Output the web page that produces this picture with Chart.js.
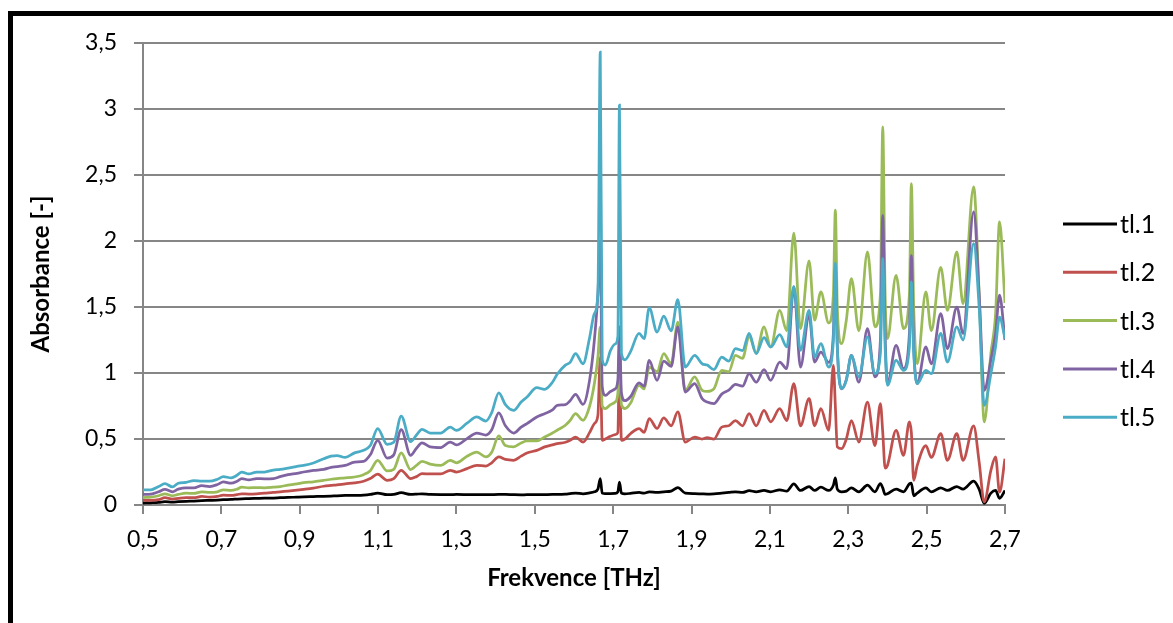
<!DOCTYPE html>
<html>
<head>
<meta charset="utf-8">
<script src="https://cdn.jsdelivr.net/npm/chart.js@4.4.1/dist/chart.umd.min.js"></script>
<style>
  html, body { margin:0; padding:0; background:#fff; overflow:hidden; width:1173px; height:623px; }
  #frame { position:absolute; left:8px; top:11px; width:1300px; height:800px; border-left:5px solid #000; border-top:5px solid #000; }
  #wrap { position:absolute; left:0; top:0; width:1173px; height:623px; }
</style>
</head>
<body>
<div id="frame"></div>
<div id="wrap"><canvas id="c" width="1173" height="623"></canvas></div>
<script>
// ---- data ----
const freq = [
  0.50, 0.52, 0.54, 0.556, 0.575, 0.59, 0.61, 0.63, 0.65, 0.67,
  0.69, 0.705, 0.725, 0.74, 0.752, 0.77, 0.79, 0.81, 0.833, 0.85,
  0.87, 0.893, 0.91, 0.935, 0.961, 0.98, 0.995, 1.016, 1.04, 1.063,
  1.08, 1.099, 1.123, 1.14, 1.159, 1.183, 1.198, 1.212, 1.233, 1.26,
  1.284, 1.30, 1.327, 1.352, 1.375, 1.39, 1.408, 1.425, 1.446, 1.465,
  1.48, 1.505, 1.525, 1.545, 1.557, 1.578, 1.59, 1.604, 1.623, 1.64,
  1.652, 1.661, 1.667, 1.672, 1.68, 1.693, 1.705, 1.712, 1.716, 1.721,
  1.73, 1.744, 1.766, 1.779, 1.792, 1.812, 1.829, 1.848, 1.865, 1.884,
  1.908, 1.927, 1.94, 1.957, 1.977, 1.995, 2.012, 2.03, 2.047, 2.065,
  2.085, 2.102, 2.125, 2.143, 2.161, 2.178, 2.2, 2.214, 2.23, 2.25,
  2.262, 2.267, 2.272, 2.283, 2.295, 2.308, 2.327, 2.349, 2.368, 2.382,
  2.388, 2.394, 2.4, 2.422, 2.441, 2.456, 2.461, 2.467, 2.476, 2.498,
  2.512, 2.536, 2.553, 2.577, 2.593, 2.62, 2.634, 2.647, 2.664, 2.676,
  2.686, 2.7
];

const tl1 = [
  0.015, 0.017, 0.02, 0.025, 0.022, 0.025, 0.028, 0.03, 0.033, 0.035,
  0.037, 0.04, 0.042, 0.045, 0.047, 0.048, 0.05, 0.052, 0.053, 0.055,
  0.057, 0.06, 0.062, 0.064, 0.066, 0.068, 0.07, 0.072, 0.073, 0.075,
  0.08, 0.09, 0.078, 0.08, 0.093, 0.08, 0.082, 0.085, 0.08, 0.079,
  0.079, 0.08, 0.079, 0.078, 0.078, 0.079, 0.08, 0.08, 0.078, 0.077,
  0.078, 0.078, 0.079, 0.08, 0.08, 0.082, 0.086, 0.09, 0.085, 0.092,
  0.1, 0.12, 0.2, 0.09, 0.086, 0.087, 0.088, 0.1, 0.174, 0.09,
  0.085, 0.088, 0.095, 0.09, 0.1, 0.095, 0.1, 0.105, 0.132, 0.09,
  0.086, 0.084, 0.083, 0.085, 0.09, 0.095, 0.1, 0.095, 0.108, 0.1,
  0.11, 0.1, 0.115, 0.105, 0.16, 0.11, 0.14, 0.11, 0.135, 0.11,
  0.15, 0.205, 0.12, 0.1, 0.105, 0.13, 0.1, 0.15, 0.1, 0.162,
  0.13, 0.08, 0.085, 0.12, 0.1, 0.16, 0.166, 0.07, 0.09, 0.13,
  0.1, 0.13, 0.11, 0.14, 0.12, 0.18, 0.12, 0.013, 0.09, 0.11,
  0.05, 0.11
];

const tl2 = [
  0.036, 0.035, 0.04, 0.055, 0.045, 0.05, 0.055, 0.055, 0.065, 0.06,
  0.065, 0.075, 0.072, 0.078, 0.085, 0.083, 0.085, 0.09, 0.095, 0.1,
  0.105, 0.112, 0.118, 0.128, 0.142, 0.148, 0.152, 0.16, 0.168, 0.18,
  0.2, 0.233, 0.187, 0.2, 0.263, 0.2, 0.215, 0.238, 0.235, 0.235,
  0.263, 0.25, 0.276, 0.3, 0.295, 0.32, 0.364, 0.345, 0.339, 0.37,
  0.394, 0.414, 0.44, 0.455, 0.465, 0.475, 0.49, 0.515, 0.477, 0.55,
  0.617, 0.68, 1.12, 0.49, 0.5, 0.52, 0.533, 0.55, 1.16, 0.49,
  0.5, 0.54, 0.579, 0.55, 0.655, 0.58, 0.66, 0.6, 0.705, 0.477,
  0.515, 0.5, 0.51, 0.5, 0.59, 0.6, 0.64, 0.6, 0.692, 0.6,
  0.717, 0.63, 0.73, 0.64, 0.92, 0.6, 0.806, 0.6, 0.73, 0.566,
  1.058, 0.75, 0.44, 0.427, 0.5, 0.64, 0.477, 0.78, 0.45, 0.768,
  0.55, 0.28, 0.3, 0.566, 0.376, 0.629, 0.55, 0.187, 0.3, 0.45,
  0.36, 0.54, 0.339, 0.54, 0.339, 0.6, 0.326, 0.023, 0.263, 0.364,
  0.098, 0.35
];

const tl3 = [
  0.056, 0.06, 0.07, 0.085, 0.07, 0.08, 0.09, 0.088, 0.1, 0.095,
  0.1, 0.115, 0.11, 0.12, 0.135, 0.13, 0.132, 0.13, 0.135, 0.14,
  0.15, 0.16, 0.17, 0.175, 0.187, 0.195, 0.2, 0.205, 0.212, 0.23,
  0.26, 0.339, 0.258, 0.27, 0.394, 0.268, 0.3, 0.331, 0.31, 0.30,
  0.339, 0.32, 0.369, 0.40, 0.365, 0.4, 0.523, 0.45, 0.44, 0.47,
  0.485, 0.485, 0.515, 0.545, 0.566, 0.604, 0.64, 0.692, 0.642, 0.75,
  0.92, 1.12, 1.35, 0.75, 0.73, 0.76, 0.78, 0.85, 1.2, 0.76,
  0.73, 0.77, 0.907, 0.88, 1.045, 1.01, 1.147, 1.07, 1.386, 0.869,
  0.97, 0.869, 0.86, 0.88, 1.02, 1.01, 1.134, 1.11, 1.28, 1.15,
  1.35, 1.197, 1.475, 1.32, 2.06, 1.336, 1.85, 1.40, 1.614, 1.379,
  1.6, 2.233, 1.5, 1.223, 1.4, 1.715, 1.32, 1.917, 1.35, 1.6,
  2.864, 1.6, 1.26, 1.74, 1.336, 1.6, 2.435, 1.5, 1.07, 1.614,
  1.32, 1.80, 1.475, 1.917, 1.526, 2.41, 1.6, 0.629, 1.15, 1.45,
  2.144, 1.53
];

const tl4 = [
  0.08, 0.082, 0.1, 0.118, 0.1, 0.12, 0.13, 0.13, 0.147, 0.14,
  0.155, 0.175, 0.165, 0.18, 0.2, 0.19, 0.2, 0.198, 0.2, 0.215,
  0.23, 0.24, 0.25, 0.262, 0.27, 0.285, 0.29, 0.3, 0.325, 0.33,
  0.38, 0.49, 0.356, 0.38, 0.571, 0.376, 0.43, 0.47, 0.44, 0.435,
  0.477, 0.455, 0.503, 0.545, 0.53, 0.57, 0.697, 0.6, 0.545, 0.59,
  0.617, 0.667, 0.692, 0.72, 0.755, 0.76, 0.79, 0.839, 0.763, 0.95,
  1.25, 1.6, 2.0, 0.9, 0.83, 0.86, 0.88, 0.95, 1.35, 0.85,
  0.79, 0.82, 0.925, 0.9, 1.096, 0.945, 1.09, 1.05, 1.35, 0.856,
  0.92, 0.806, 0.78, 0.768, 0.84, 0.87, 0.914, 0.9, 0.995, 0.93,
  1.026, 0.945, 1.083, 1.033, 1.65, 1.045, 1.437, 1.083, 1.159, 1.08,
  1.3, 1.8, 1.2, 0.88, 0.95, 1.134, 0.93, 1.336, 0.97, 1.25,
  2.195, 1.3, 0.92, 1.21, 1.033, 1.3, 1.89, 1.2, 0.92, 1.197,
  1.07, 1.45, 1.185, 1.5, 1.30, 2.22, 1.6, 0.869, 1.1, 1.3,
  1.59, 1.25
];

const tl5 = [
  0.115, 0.115, 0.14, 0.162, 0.137, 0.165, 0.172, 0.185, 0.18, 0.18,
  0.195, 0.215, 0.205, 0.225, 0.25, 0.235, 0.25, 0.25, 0.265, 0.27,
  0.28, 0.293, 0.30, 0.318, 0.35, 0.37, 0.375, 0.36, 0.395, 0.414,
  0.45, 0.579, 0.46, 0.475, 0.674, 0.48, 0.53, 0.573, 0.545, 0.545,
  0.59, 0.565, 0.62, 0.667, 0.636, 0.7, 0.85, 0.76, 0.717, 0.78,
  0.818, 0.889, 0.876, 0.93, 0.99, 1.06, 1.08, 1.147, 1.07, 1.27,
  1.45, 1.6, 3.43, 1.1, 1.06, 1.17, 1.22, 1.28, 3.03, 1.15,
  1.1, 1.16, 1.30, 1.26, 1.495, 1.31, 1.43, 1.32, 1.556, 1.045,
  1.134, 1.07, 1.06, 1.026, 1.12, 1.09, 1.185, 1.17, 1.30, 1.147,
  1.268, 1.197, 1.29, 1.197, 1.657, 1.172, 1.475, 1.12, 1.223, 1.045,
  1.25, 1.833, 1.2, 0.882, 0.945, 1.134, 0.97, 1.273, 0.995, 1.15,
  1.867, 1.2, 0.907, 1.096, 1.02, 1.2, 1.69, 1.15, 0.92, 1.02,
  0.995, 1.30, 1.083, 1.35, 1.25, 1.98, 1.5, 0.755, 0.995, 1.2,
  1.424, 1.26
];

const seriesNames = ['tl.1', 'tl.2', 'tl.3', 'tl.4', 'tl.5'];
const seriesColors = ['#000000', '#C0504D', '#9BBB59', '#8064A2', '#4BACC6'];
const xTicks = [0.5, 0.7, 0.9, 1.1, 1.3, 1.5, 1.7, 1.9, 2.1, 2.3, 2.5, 2.7];
const yTicks = [0, 0.5, 1, 1.5, 2, 2.5, 3, 3.5];
const xTitle = 'Frekvence [THz]';
const yTitle = 'Absorbance [-]';

// ---- chart ----
const seriesValues = [tl1, tl2, tl3, tl4, tl5];
const fmt = v => String(+Number(v).toFixed(1)).replace('.', ',');
const FONT = 'Lato';
const GRID = '#868686';

const datasets = seriesValues.map((vals, i) => ({
  label: seriesNames[i],
  data: freq.map((f, k) => ({ x: f, y: vals[k] })),
  borderColor: seriesColors[i],
  backgroundColor: seriesColors[i],
  borderWidth: 2.75,
  pointRadius: 0,
  pointHoverRadius: 0,
  fill: false,
  cubicInterpolationMode: 'monotone',
  order: seriesValues.length - i
}));

const legendPlugin = {
  id: 'sideLegend',
  afterDraw(chart) {
    const { ctx, chartArea } = chart;
    const x0 = chartArea.right + 58;
    const lineLen = 54;
    const y0 = chartArea.top + 181;
    const step = 48.3;
    ctx.save();
    ctx.font = '25px ' + FONT;
    ctx.textBaseline = 'middle';
    ctx.textAlign = 'left';
    chart.data.datasets.forEach((ds, i) => {
      const y = y0 + i * step;
      ctx.strokeStyle = ds.borderColor;
      ctx.lineWidth = 3;
      ctx.beginPath();
      ctx.moveTo(x0, y);
      ctx.lineTo(x0 + lineLen, y);
      ctx.stroke();
      ctx.fillStyle = '#000';
      ctx.fillText(ds.label, x0 + lineLen + 3, y + 1);
    });
    ctx.restore();
  }
};

Chart.defaults.font.family = FONT;
Chart.defaults.color = '#000';

new Chart(document.getElementById('c'), {
  type: 'line',
  data: { datasets },
  plugins: [legendPlugin],
  options: {
    responsive: false,
    animation: false,
    events: [],
    layout: { padding: { left: 0, right: 168, top: 43, bottom: 0 } },
    plugins: { legend: { display: false }, tooltip: { enabled: false } },
    scales: {
      x: {
        type: 'linear',
        min: 0.5,
        max: 2.7,
        afterBuildTicks: s => { s.ticks = xTicks.map(v => ({ value: v })); },
        afterFit: s => { s.height = 118; },
        ticks: { callback: v => fmt(v), font: { size: 23 }, color: '#000', padding: 12, maxRotation: 0, autoSkip: false },
        grid: { drawOnChartArea: false, drawTicks: true, tickLength: 9, color: GRID, lineWidth: 2 },
        border: { display: true, color: GRID, width: 2 },
        title: { display: true, text: xTitle, color: '#000', font: { size: 24, weight: 'bold' }, padding: { top: 0, bottom: 30 } }
      },
      y: {
        min: 0,
        max: 3.5,
        afterBuildTicks: s => { s.ticks = yTicks.map(v => ({ value: v })); },
        afterFit: s => { s.width = 143; },
        ticks: { callback: v => fmt(v), font: { size: 23 }, color: '#000', padding: 17 },
        grid: { color: GRID, lineWidth: 2, drawTicks: true, tickLength: 9 },
        border: { display: true, color: GRID, width: 2 },
        title: { display: true, text: yTitle, color: '#000', font: { size: 24, weight: 'bold' }, padding: { top: 27, bottom: 0 } }
      }
    }
  }
});
</script>
</body>
</html>
